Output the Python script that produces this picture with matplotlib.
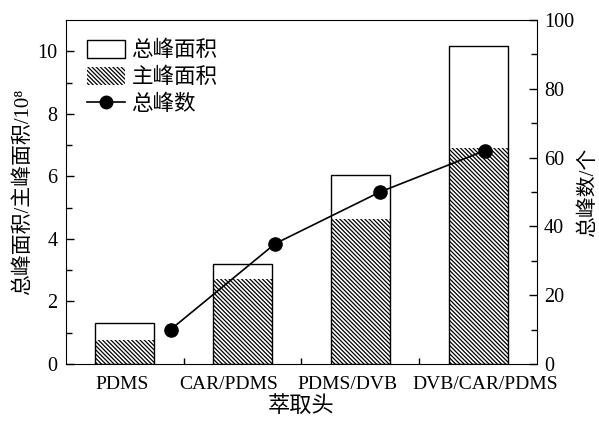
import numpy as np
import matplotlib
matplotlib.use('Agg')
import matplotlib.pyplot as plt
from matplotlib.patches import Patch
from matplotlib.lines import Line2D

plt.rcParams['font.family'] = ['Liberation Serif', 'Noto Sans CJK SC']
plt.rcParams['font.size'] = 14.5
plt.rcParams['hatch.linewidth'] = 0.9

fibers = ['PDMS', 'CAR/PDMS', 'PDMS/DVB', 'DVB/CAR/PDMS']
total_area = [1.32, 3.2, 6.03, 10.17]
main_area = [0.77, 2.72, 4.65, 6.91]
peak_count = [10, 35, 50, 62]

# label centres were nudged in the original so the long names don't collide
label_pos = [-0.025, 0.886, 1.894, 3.06]

fig = plt.figure(figsize=(5.99, 4.21), dpi=100)
ax = fig.add_axes([0.110, 0.1354, 0.7865, 0.8171])

x = np.arange(len(fibers))
hatch = '\\' * 8
ax.bar(x, total_area, width=0.5, color='white', edgecolor='none', zorder=1)
ax.bar(x, main_area, width=0.5, color='white', edgecolor='black',
       linewidth=0, hatch=hatch, zorder=2)
ax.bar(x, total_area, width=0.5, fill=False, edgecolor='black', linewidth=1.0, zorder=3)

ax.set_xlim(-0.5, 3.5)
ax.set_ylim(0, 11)
ax.set_xticks(label_pos)
ax.set_xticklabels(fibers, fontsize=14)
ax.set_xticks([0, 0.5, 1, 1.5, 2, 2.5, 3], minor=True)
ax.set_yticks(np.arange(0, 11, 2))
ax.set_yticks(np.arange(1, 11, 2), minor=True)
ax.tick_params(axis='both', which='both', direction='in', top=False, right=False)
ax.tick_params(axis='y', which='major', length=6, width=1, pad=6)
ax.tick_params(axis='y', which='minor', length=4, width=1)
ax.tick_params(axis='x', which='major', length=0, pad=9)
ax.tick_params(axis='x', which='minor', length=4, width=1)
ax.set_xlabel('萃取头', fontsize=16, labelpad=2)
ax.set_ylabel('总峰面积/主峰面积/10⁸', fontsize=15, labelpad=3)

# separate axes for the peak-count line (its own x scale, right y axis)
ax2 = fig.add_axes(ax.get_position(), facecolor='none')
ax2.plot(np.arange(len(peak_count)), peak_count, color='black', linewidth=1.2,
         marker='o', markersize=9.5, zorder=4)
ax2.set_xlim(-1, 3.5)
ax2.set_ylim(0, 100)
ax2.xaxis.set_visible(False)
ax2.yaxis.tick_right()
ax2.yaxis.set_label_position('right')
ax2.set_yticks(np.arange(0, 101, 20))
ax2.set_yticks(np.arange(10, 100, 20), minor=True)
ax2.tick_params(axis='y', which='major', direction='in', length=6, width=1, pad=5)
ax2.tick_params(axis='y', which='minor', direction='in', length=4, width=1)
ax2.set_ylabel('总峰数/个', fontsize=15, labelpad=3)
for s in ax2.spines.values():
    s.set_visible(False)

handles = [Patch(facecolor='white', edgecolor='black', linewidth=1.0),
           Patch(facecolor='white', edgecolor='black', linewidth=0, hatch=hatch),
           Line2D([], [], color='black', linewidth=1.2, marker='o', markersize=9)]
ax2.legend(handles, ['总峰面积', '主峰面积', '总峰数'], loc='upper left',
           frameon=False, handlelength=1.75, handleheight=0.9, fontsize=15.5,
           labelspacing=0.25, handletextpad=0.3, borderpad=0.3,
           bbox_to_anchor=(0.009, 0.992))

fig.savefig('out.png', dpi=100)
